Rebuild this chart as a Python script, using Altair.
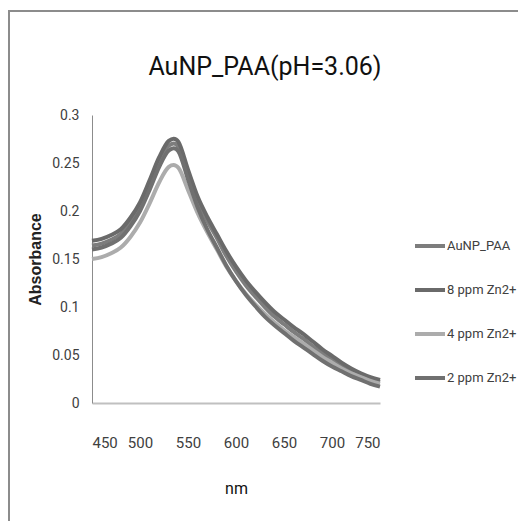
import altair as alt
import pandas as pd

nm = list(range(450, 751, 10))

series_names = ["AuNP_PAA", "8 ppm Zn2+", "4 ppm Zn2+", "2 ppm Zn2+"]
series_colors = ["#7d7d7d", "#6a6a6a", "#acacac", "#707070"]

auNP_PAA = [.164, .166, .170, .176, .188, .204, .227, .251, .268, .267, .240, .212, .190, .172, .153, .137,
            .123, .111, .100, .090, .082, .074, .067, .059, .052, .045, .039, .034, .029, .025, .022]
zn8 = [.169, .171, .175, .181, .193, .209, .232, .256, .273, .272, .243, .215, .194, .176, .158, .142,
       .128, .116, .105, .095, .087, .079, .072, .064, .056, .049, .042, .036, .031, .027, .024]
zn4 = [.150, .152, .156, .162, .173, .188, .208, .230, .246, .245, .222, .198, .178, .160, .142, .127,
       .114, .103, .093, .084, .076, .069, .062, .055, .048, .042, .036, .031, .027, .023, .020]
zn2 = [.160, .162, .166, .172, .184, .200, .222, .246, .263, .262, .233, .204, .181, .162, .143, .127,
       .113, .101, .090, .081, .073, .065, .058, .051, .044, .038, .033, .028, .024, .020, .017]

x_ticks = [450, 500, 550, 600, 650, 700, 750]
y_ticks = [0, 0.05, 0.1, 0.15, 0.2, 0.25, 0.3]
title_text = "AuNP_PAA(pH=3.06)"

rows = []
for name, vals in zip(series_names, [auNP_PAA, zn8, zn4, zn2]):
    for w, a in zip(nm, vals):
        rows.append({"nm": w, "A": a, "series": name})
df = pd.DataFrame(rows)

FONT = "Roboto"

lines = alt.Chart(df).mark_line(interpolate="cardinal", strokeWidth=4).encode(
    x=alt.X("nm:Q", scale=alt.Scale(domain=[450, 750], nice=False, zero=False),
            axis=alt.Axis(values=x_ticks, title="nm", grid=False, ticks=False,
                          domainColor="#c0c0c0", domainWidth=2,
                          labelFont=FONT, labelFontSize=15, labelColor="#404040",
                          labelPadding=32, titleFont=FONT, titleFontSize=16,
                          titleFontWeight="normal", titleColor="#111111", titlePadding=30)),
    y=alt.Y("A:Q", scale=alt.Scale(domain=[0, 0.3], nice=False),
            axis=alt.Axis(values=y_ticks, labelExpr="'' + datum.value", title="Absorbance",
                          grid=False, ticks=False, domainColor="#8c8c8c", domainWidth=1,
                          labelFont=FONT, labelFontSize=14, labelColor="#404040",
                          labelPadding=13, titleFont="Liberation Sans", titleFontSize=16,
                          titleFontWeight="bold", titleColor="#222222", titleAngle=270,
                          titleX=-57, titleY=144, titleAlign="center", titleBaseline="middle")),
    color=alt.Color("series:N", sort=series_names,
                    scale=alt.Scale(domain=series_names, range=series_colors),
                    legend=alt.Legend(title=None, orient="none", legendX=321, legendY=114,
                                      direction="vertical", symbolType="stroke", symbolSize=900,
                                      symbolStrokeWidth=4, rowPadding=19, padding=0,
                                      labelFont=FONT, labelFontSize=13, labelColor="#404040",
                                      labelOffset=0)),
)

one = alt.Data(values=[{"t": title_text}])
frame = alt.Chart(one).mark_rect(fill="transparent", stroke="#8c8c8c", strokeWidth=2).encode(
    x=alt.value(-83), x2=alt.value(450), y=alt.value(-104), y2=alt.value(440))
title = alt.Chart(one).mark_text(font=FONT, fontSize=25, color="#111111", align="center",
                                 baseline="alphabetic").encode(
    text="t:N", x=alt.value(173), y=alt.value(-40))

chart = alt.layer(frame, title, lines).properties(
    width=288, height=288,
    background="white",
    autosize=alt.AutoSizeParams(type="none"),
    padding={"left": 84, "top": 107, "right": 138, "bottom": 118},
).configure_view(strokeWidth=0, stroke="transparent")

chart.save("out.html", embed_options={"renderer": "svg", "actions": False})
